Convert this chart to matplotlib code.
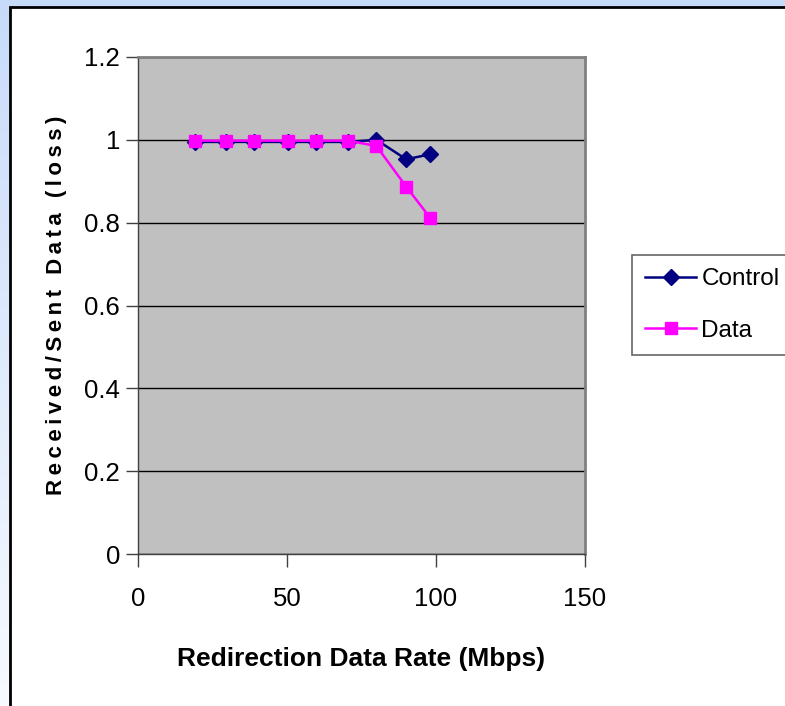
import numpy as np
import matplotlib
matplotlib.use("Agg")
import matplotlib.pyplot as plt
from matplotlib.patches import Rectangle

# Data
rates = [19, 29.6, 39, 50.4, 59.7, 70.6, 80, 90, 98]
control = [0.995, 0.995, 0.995, 0.995, 0.995, 0.995, 1.0, 0.953, 0.965]
data = [0.998, 0.998, 0.998, 0.998, 0.998, 0.998, 0.985, 0.887, 0.812]
xticks = [0, 50, 100, 150]
yticks = [0, 0.2, 0.4, 0.6, 0.8, 1.0, 1.2]
ytick_labels = ["0", "0.2", "0.4", "0.6", "0.8", "1", "1.2"]
xlabel = 'Redirection Data Rate (Mbps)'
ylabel = 'Received/Sent Data (loss)'

plt.rcParams['font.family'] = ['Liberation Sans', 'DejaVu Sans']
tick_size = 18.5
legend_size = 17.5

W, H = 785, 706
fig = plt.figure(figsize=(W / 100, H / 100), dpi=100)

# Background gradient
bg = fig.add_axes([0, 0, 1, 1], zorder=-10)
grad = np.linspace(0, 1, 256).reshape(-1, 1)
top = np.array([0.78, 0.86, 0.98])
bot = np.array([0.97, 0.98, 1.0])
img = top[None, None, :] * (1 - grad[:, :, None]) + bot[None, None, :] * grad[:, :, None]
bg.imshow(img, aspect='auto', extent=[0, 1, 0, 1], origin='upper')
bg.set_xlim(0, 1)
bg.set_ylim(0, 1)
bg.axis('off')
bg.add_patch(Rectangle((10 / W, -0.1), 1.2, 1 - 7 / H + 0.1, facecolor='white',
                       edgecolor='black', linewidth=2.0, transform=bg.transAxes))

ax = fig.add_axes([138 / W, (H - 554) / H, (585 - 138) / W, (554 - 57) / H])
ax.set_facecolor('#c0c0c0')
ax.set_xlim(0, 150)
ax.set_ylim(0, 1.2)
ax.set_xticks(xticks)
ax.set_yticks(yticks)
ax.set_yticklabels(ytick_labels)
ax.yaxis.grid(True, color='black', linewidth=1.0)
ax.set_axisbelow(True)

for s in ['top', 'right']:
    ax.spines[s].set_color('#808080')
    ax.spines[s].set_linewidth(2.0)
for s in ['left', 'bottom']:
    ax.spines[s].set_color('#404040')
    ax.spines[s].set_linewidth(1.0)

ax.tick_params(axis='both', direction='out', length=9, width=1, color='#404040',
               labelsize=tick_size)
ax.tick_params(axis='x', pad=15)
ax.tick_params(axis='y', pad=4)

ax.plot(rates, control, color='#000080', linewidth=1.8, marker='D', markersize=8.5,
        label='Control', zorder=3)
ax.plot(rates, data, color='#ff00ff', linewidth=1.8, marker='s', markersize=8,
        label='Data', zorder=4)

ax.set_xlabel(xlabel, fontsize=19, fontweight='bold', labelpad=26)
spaced = '\u2009'.join(ylabel)
ax.set_ylabel(spaced, fontsize=16, fontweight='bold', labelpad=12)

leg = fig.legend(loc='upper left', bbox_to_anchor=(632 / W, 1 - 255 / H),
                 fontsize=legend_size,
                 frameon=True, fancybox=False, edgecolor='#404040',
                 borderpad=0.55, handlelength=2.1, handletextpad=0.2,
                 labelspacing=1.2, borderaxespad=0)
leg.get_frame().set_linewidth(1.2)

fig.savefig('out.png', dpi=100)
